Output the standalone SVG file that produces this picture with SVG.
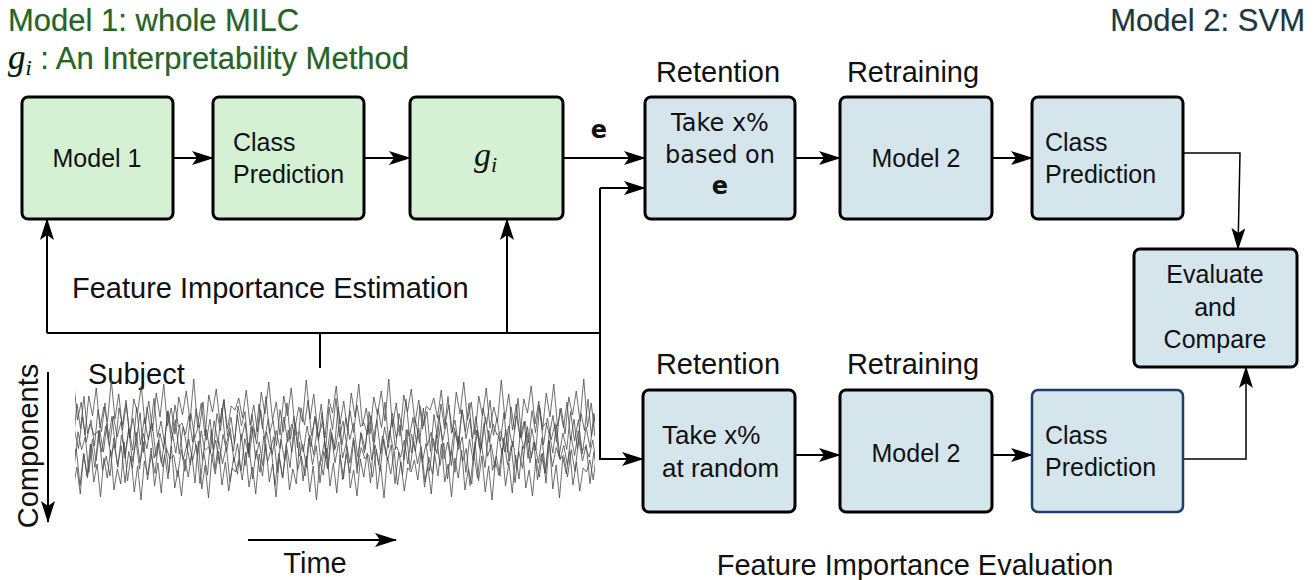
<svg xmlns="http://www.w3.org/2000/svg" xmlns:xlink="http://www.w3.org/1999/xlink" width="1316" height="580" viewBox="0 0 1316 580">
<style>
.box{stroke:#000;stroke-width:3}
.g{fill:#d4f2d3}
.b{fill:#d5e5ec}
.t{font-family:"Liberation Sans",Arial,sans-serif;font-size:25px;fill:#111}
.lb{font-size:29px}
.d{font-family:"DejaVu Sans",Verdana,sans-serif;font-size:24px;fill:#111}
.m{font-family:"Liberation Serif","Times New Roman",serif;font-style:italic;fill:#111}
.c{text-anchor:middle}
.ln{fill:none;stroke:#000;stroke-width:2}
.thin{fill:none;stroke:#000;stroke-width:1.5}
.hg{fill:#2c5f2c;stroke:#9adf9a;stroke-width:0.6;paint-order:stroke;font-size:31px}
.hb{fill:#24343b;stroke:#b3d3de;stroke-width:0.6;paint-order:stroke;font-size:31px}
.nz{fill:none;stroke:#4a4a4a;stroke-width:0.8;vector-effect:non-scaling-stroke}
</style>
<defs>
<marker id="ah" viewBox="0 0 22 14" markerWidth="22" markerHeight="14" refX="21" refY="7" orient="auto" markerUnits="userSpaceOnUse">
<path d="M0,0 L22,7 L0,14 L5,7 Z" fill="#000"/>
</marker>
<clipPath id="sigclip"><rect x="75" y="370" width="520" height="140"/></clipPath>
<polyline id="nz" class="nz" points="0,0 2.5,-12 5,8 7.5,-20 10,15 12.5,-5 15,22 17.5,-18 20,4 22.5,-28 25,10 27.5,-8 30,25 32.5,-14 35,6 37.5,-22 40,18 42.5,-3 45,12 47.5,-30 50,9 52.5,-16 55,20 57.5,-6 60,28 62.5,-11 65,3 67.5,-24 70,14 72.5,-9 75,21 77.5,-17 80,7 82.5,-26 85,16 87.5,-2 90,24 92.5,-13 95,5 97.5,-19 100,11 102.5,-31 105,17 107.5,-7 110,26 112.5,-15 115,2 117.5,-21 120,13 122.5,-10 125,19 127.5,-4 130,0"/>
<g id="row">
<use xlink:href="#nz" x="0"/><use xlink:href="#nz" x="130"/><use xlink:href="#nz" x="260"/><use xlink:href="#nz" x="390"/><use xlink:href="#nz" x="520"/>
</g>
</defs>
<rect width="1316" height="580" fill="#fff"/>

<!-- header labels -->
<text class="t hg" x="8" y="31">Model 1: whole MILC</text>
<text class="t hg" x="8" y="69"><tspan class="m" style="font-size:35px">g</tspan><tspan class="m" style="font-size:22px" dy="6">i</tspan><tspan dy="-6"> : An Interpretability Method</tspan></text>
<text class="t hb" x="1305" y="31" text-anchor="end">Model 2: SVM</text>

<!-- stage labels -->
<text class="t lb c" x="718" y="82">Retention</text>
<text class="t lb c" x="913" y="82">Retraining</text>
<text class="t lb c" x="718" y="374">Retention</text>
<text class="t lb c" x="913" y="374">Retraining</text>
<text class="t lb" x="72" y="298">Feature Importance Estimation</text>
<text class="t lb c" x="915" y="575">Feature Importance Evaluation</text>
<text class="t lb" x="88" y="384">Subject</text>
<text class="t lb c" x="315" y="573">Time</text>
<text class="t lb c" transform="translate(38,446) rotate(-90)">Components</text>

<!-- signal -->
<g id="signal" clip-path="url(#sigclip)">
<use xlink:href="#row" transform="translate(40,410) scale(1.5,1.0)"/>
<use xlink:href="#row" transform="translate(0,423) scale(1.4,-0.95)"/>
<use xlink:href="#row" transform="translate(900,435) scale(-1.55,0.9)"/>
<use xlink:href="#row" transform="translate(20,447) scale(1.45,-0.85)"/>
<use xlink:href="#row" transform="translate(950,459) scale(-1.5,0.95)"/>
<use xlink:href="#row" transform="translate(60,472) scale(1.35,1.0)"/>
</g>

<!-- connectors -->
<g id="connectors">
<line class="ln" x1="173" y1="158" x2="213" y2="158" marker-end="url(#ah)"/>
<line class="ln" x1="364" y1="158" x2="410" y2="158" marker-end="url(#ah)"/>
<line class="ln" x1="563" y1="158" x2="645" y2="158" marker-end="url(#ah)"/>
<text class="d c" x="599" y="138" style="font-weight:bold">e</text>
<line class="ln" x1="795" y1="158" x2="840" y2="158" marker-end="url(#ah)"/>
<line class="ln" x1="992" y1="158" x2="1032" y2="158" marker-end="url(#ah)"/>
<polyline class="thin" points="1183,153 1240,153 1238,249" marker-end="url(#ah)"/>
<polyline class="ln" points="47,333 47,219" marker-end="url(#ah)"/>
<polyline class="ln" points="507,333 507,219" marker-end="url(#ah)"/>
<line class="ln" x1="47" y1="333" x2="600" y2="333"/>
<line class="ln" x1="320" y1="333" x2="320" y2="368"/>
<polyline class="ln" points="600,188 600,459 643,459" marker-end="url(#ah)"/>
<polyline class="ln" points="600,188 645,188" marker-end="url(#ah)"/>
<line class="ln" x1="795" y1="455" x2="840" y2="455" marker-end="url(#ah)"/>
<line class="ln" x1="992" y1="455" x2="1032" y2="455" marker-end="url(#ah)"/>
<polyline class="thin" points="1183,459 1246,459 1246,367" marker-end="url(#ah)"/>
<line class="ln" x1="48" y1="372" x2="48" y2="522" marker-end="url(#ah)"/>
<line class="ln" x1="248" y1="540" x2="396" y2="540" marker-end="url(#ah)"/>
</g>

<!-- nodes -->
<g id="model1"><rect class="box g" x="22" y="97" width="151" height="122" rx="6"/><text class="t c" x="97" y="167">Model 1</text></g>
<g id="classpred1"><rect class="box g" x="213" y="97" width="151" height="122" rx="6"/><text class="t" x="233" y="151">Class</text><text class="t" x="233" y="183">Prediction</text></g>
<g id="gi"><rect class="box g" x="410" y="97" width="153" height="122" rx="6"/><text class="m" x="474" y="166" style="font-size:34px">g<tspan style="font-size:22px" dy="6">i</tspan></text></g>
<g id="take-e"><rect class="box b" x="645" y="97" width="150" height="122" rx="6"/><text class="d c" x="720" y="131">Take x%</text><text class="d c" x="720" y="163">based on</text><text class="d c" x="720" y="194" style="font-weight:bold">e</text></g>
<g id="model2a"><rect class="box b" x="840" y="97" width="152" height="122" rx="6"/><text class="t c" x="916" y="167">Model 2</text></g>
<g id="classpred2a"><rect class="box b" x="1032" y="97" width="151" height="122" rx="6"/><text class="t" x="1045" y="151">Class</text><text class="t" x="1045" y="183">Prediction</text></g>
<g id="evaluate"><rect class="box b" x="1134" y="249" width="163" height="118" rx="6"/><text class="t c" x="1215" y="283">Evaluate</text><text class="t c" x="1215" y="316">and</text><text class="t c" x="1215" y="348">Compare</text></g>
<g id="take-random"><rect class="box b" x="643" y="390" width="152" height="122" rx="6"/><text class="t" x="662" y="444" style="font-size:26px">Take x%</text><text class="t" x="662" y="477" style="font-size:26px">at random</text></g>
<g id="model2b"><rect class="box b" x="840" y="390" width="152" height="122" rx="6"/><text class="t c" x="916" y="462">Model 2</text></g>
<g id="classpred2b"><rect class="b" x="1032" y="390" width="151" height="122" rx="6" stroke="#1b3f6e" stroke-width="2.5"/><text class="t" x="1045" y="444">Class</text><text class="t" x="1045" y="476">Prediction</text></g>
</svg>
